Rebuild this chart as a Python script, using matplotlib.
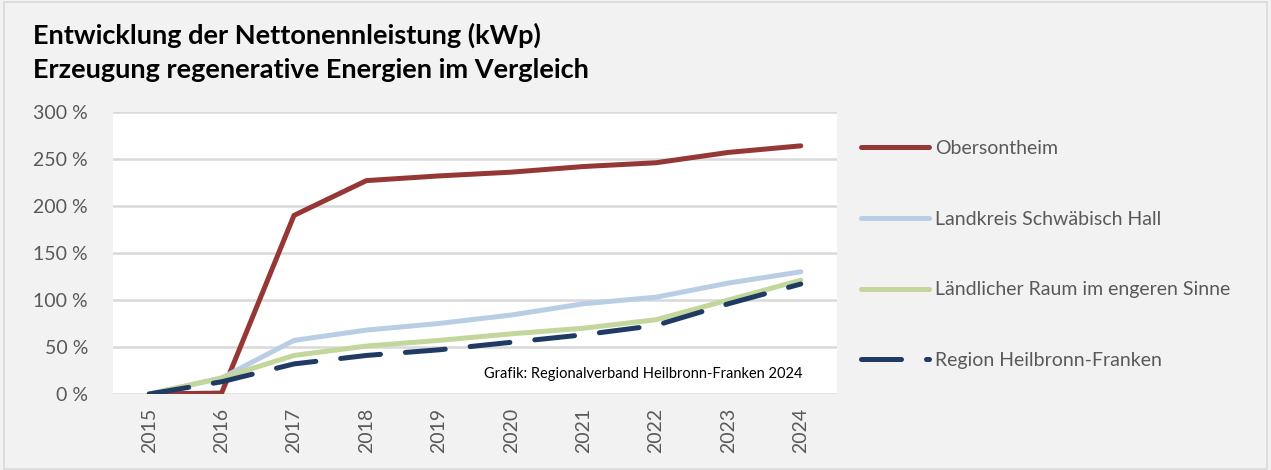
import matplotlib
matplotlib.use("Agg")
import matplotlib.pyplot as plt
from matplotlib.patches import Rectangle
from matplotlib.ticker import FuncFormatter

years = [2015, 2016, 2017, 2018, 2019, 2020, 2021, 2022, 2023, 2024]
obersontheim = [0, 1, 190, 227, 232, 236, 242, 246, 257, 264]
landkreis = [0, 17, 57, 68, 75, 84, 96, 103, 118, 130]
laendlich = [0, 17, 41, 51, 57, 64, 70, 79, 100, 121]
region = [0, 13, 32, 41, 47, 55, 63, 73, 96, 117]
labels = ["Obersontheim", "Landkreis Schwäbisch Hall",
          "Ländlicher Raum im engeren Sinne", "Region Heilbronn-Franken"]

plt.rcParams['font.family'] = ['Lato', 'DejaVu Sans']

fig = plt.figure(figsize=(12.71, 4.70), dpi=100, facecolor='#f2f2f2')
fig.patches.append(Rectangle((0.003, 0.003), 0.994, 0.992, transform=fig.transFigure,
                             fill=False, edgecolor='#d9d9d9', lw=1.2))

ax = fig.add_axes([0.0889, 0.1617, 0.5696, 0.60])
ax.set_facecolor('white')
x = list(range(len(years)))
lw = 3.6
ax.plot(x, obersontheim, color='#953735', lw=lw, solid_capstyle='round', label=labels[0])
ax.plot(x, landkreis, color='#b9cde5', lw=lw, solid_capstyle='round', label=labels[1])
ax.plot(x, laendlich, color='#c3d69b', lw=lw, solid_capstyle='round', label=labels[2])
ax.plot(x, region, color='#1f3b63', lw=lw, linestyle=(0, (8, 5)),
        dash_capstyle='round', label=labels[3])

ax.set_xlim(-0.5, len(years) - 0.5)
ax.set_ylim(0, 300)
ax.set_yticks(range(0, 301, 50))
ax.yaxis.set_major_formatter(FuncFormatter(lambda v, p: f"{int(v)} %"))
ax.set_xticks(x)
ax.set_xticklabels([str(y) for y in years], rotation=90)
ax.tick_params(axis='both', length=0, labelsize=14, labelcolor='#595959')
ax.tick_params(axis='y', pad=18)
ax.tick_params(axis='x', pad=10)
ax.grid(axis='y', color='#d9d9d9', lw=1.8)
ax.set_axisbelow(True)
for s in ax.spines.values():
    s.set_visible(False)

ax.text(0.953, 0.045, "Grafik: Regionalverband Heilbronn-Franken 2024", transform=ax.transAxes,
        ha='right', va='bottom', fontsize=10.5, color='black')

fig.text(0.026, 0.925, "Entwicklung der Nettonennleistung (kWp)", fontsize=19.5,
         fontweight='bold', color='black', ha='left', va='center')
fig.text(0.026, 0.850, "Erzeugung regenerative Energien im Vergleich", fontsize=19.5,
         fontweight='bold', color='black', ha='left', va='center')

leg = fig.legend(loc='upper left', bbox_to_anchor=(0.664, 0.740), frameon=False,
                 fontsize=14, handlelength=3.48, handletextpad=0.3, labelspacing=2.77)
for t in leg.get_texts():
    t.set_color('#595959')

fig.savefig("out.png", dpi=100, facecolor=fig.get_facecolor())
